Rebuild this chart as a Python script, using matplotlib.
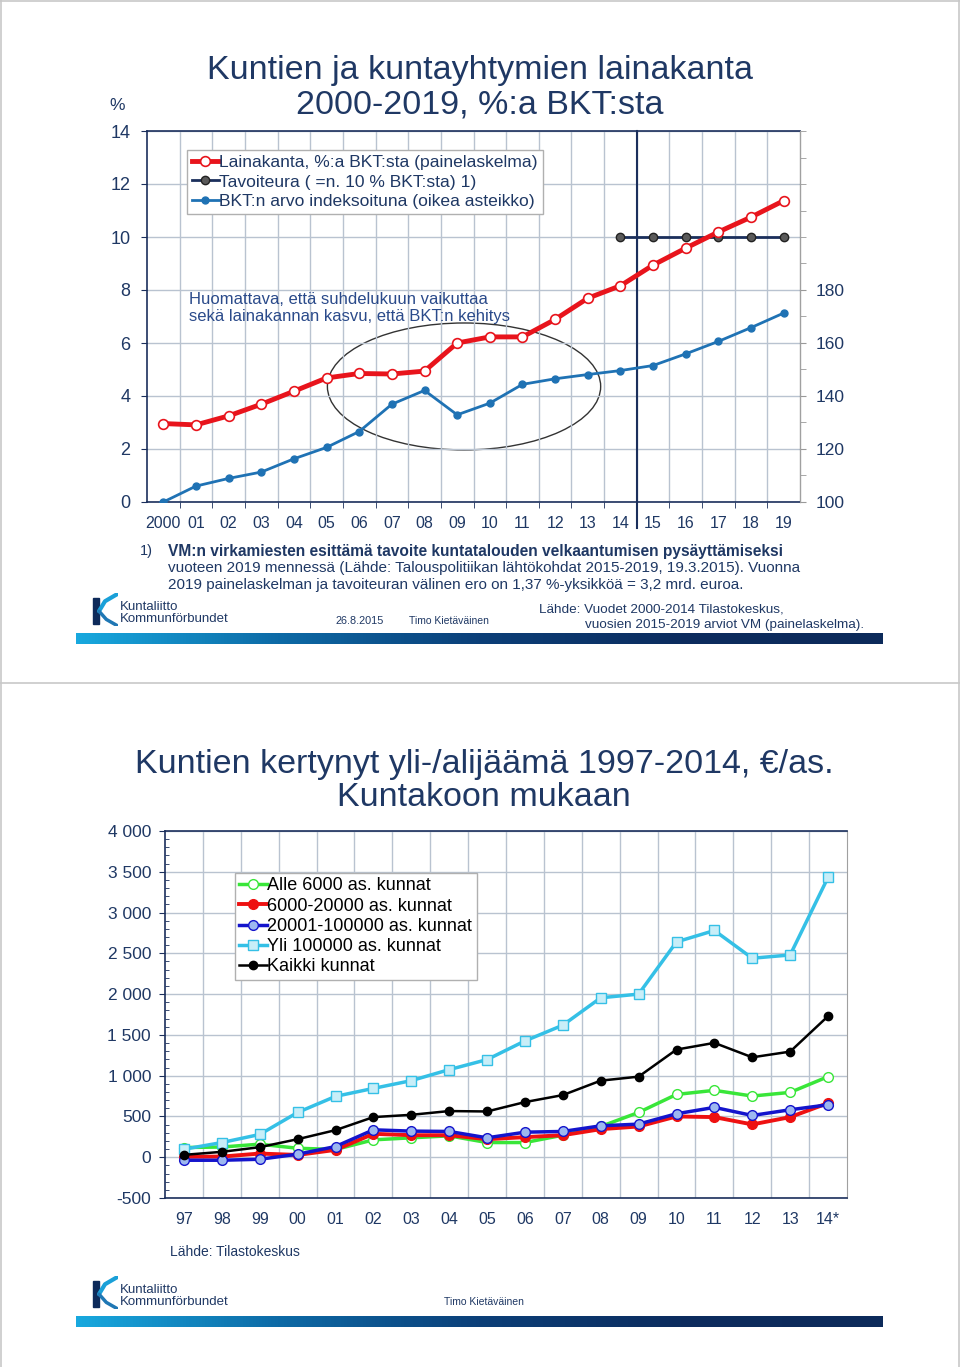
import numpy as np
import matplotlib
matplotlib.use('Agg')
import matplotlib.pyplot as plt
from matplotlib.patches import Ellipse, Rectangle
from matplotlib.lines import Line2D
from matplotlib.colors import LinearSegmentedColormap

plt.rcParams['font.family'] = ['Liberation Sans', 'DejaVu Sans']

# ---- data: top chart ----
years_top = ['2000', '01', '02', '03', '04', '05', '06', '07', '08', '09',
             '10', '11', '12', '13', '14', '15', '16', '17', '18', '19']
lainakanta = [2.96, 2.91, 3.25, 3.69, 4.18, 4.68, 4.85, 4.83, 4.94, 6.0,
              6.23, 6.23, 6.89, 7.69, 8.16, 8.94, 9.58, 10.19, 10.75, 11.37]
tavoite_years = ['14', '15', '16', '17', '18', '19']
tavoite = [10, 10, 10, 10, 10, 10]
bkt_index = [100, 106.0, 108.9, 111.3, 116.3, 120.6, 126.6, 136.9, 142.1, 132.9,
             137.3, 144.4, 146.5, 148.1, 149.6, 151.5, 155.9, 160.6, 165.8, 171.3]

# ---- data: bottom chart ----
years_bot = ['97', '98', '99', '00', '01', '02', '03', '04', '05', '06',
             '07', '08', '09', '10', '11', '12', '13', '14*']
alle6000 = [119, 125, 160, 110, 95, 213, 238, 262, 180, 180,
            270, 377, 549, 770, 820, 750, 795, 988]
k6000_20000 = [5, 8, 45, 28, 90, 287, 270, 270, 221, 246,
               270, 344, 377, 500, 492, 402, 492, 664]
k20001_100000 = [-37, -37, -25, 37, 131, 336, 320, 316, 238, 307,
                 316, 385, 406, 533, 611, 512, 582, 643]
yli100000 = [98, 180, 279, 549, 746, 844, 939, 1074, 1197, 1426,
             1619, 1955, 2000, 2640, 2780, 2440, 2480, 3432]
kaikki = [29, 66, 123, 221, 332, 492, 520, 566, 561, 676,
          762, 939, 988, 1320, 1402, 1225, 1295, 1730]

W, H = 960, 1367
navy = '#1b2f5c'
textc = '#1f3864'
gridc = '#b9c3d0'


def fx(px):
    return px / W


def fy(py):
    return 1 - py / H


fig = plt.figure(figsize=(9.6, 13.67), dpi=100)

# page borders
for seg in [((1, 1), (0, H)), ((0, W), (1, 1)), ((0, W), (683, 683)), ((W - 1, W - 1), (0, H))]:
    fig.add_artist(Line2D([fx(seg[0][0]), fx(seg[0][1])], [fy(seg[1][0]), fy(seg[1][1])],
                          color='#c8c8c8', lw=1.2))

# ================= TOP CHART =================
ax1 = fig.add_axes([fx(147), fy(502), (800 - 147) / W, (502 - 131) / H])
ax2 = ax1.twinx()
x = np.arange(len(years_top))
xt = [years_top.index(y) for y in tavoite_years]

ax1.set_xlim(-0.5, len(years_top) - 0.5)
ax1.set_ylim(0, 14)
ax2.set_ylim(100, 240)
ax1.set_yticks(np.arange(0, 15, 2))
ax1.set_yticks(np.arange(0, 15, 1), minor=True)
ax2.set_yticks([100, 120, 140, 160, 180])
ax2.set_yticks(np.arange(100, 241, 10), minor=True)
ax1.set_xticks(x)
ax1.set_xticklabels(years_top, fontsize=11.5, color=textc)
ax1.set_xticks(x[:-1] + 0.5, minor=True)
ax1.tick_params(axis='x', which='major', length=0, pad=10)
ax1.tick_params(axis='x', which='minor', length=4, color=navy)
ax1.tick_params(axis='y', which='major', labelsize=13, labelcolor=textc, length=4, color=navy, pad=8)
ax1.tick_params(axis='y', which='minor', length=0)
ax2.tick_params(axis='y', which='major', labelsize=12.5, labelcolor=textc, length=4, color='#999999', pad=7)
ax2.tick_params(axis='y', which='minor', length=4, color='#999999')
ax1.grid(True, which='major', axis='y', color=gridc, lw=1)
ax1.grid(True, which='minor', axis='x', color=gridc, lw=1)
for s in ['left', 'bottom', 'top']:
    ax1.spines[s].set_color(navy)
    ax1.spines[s].set_linewidth(1.2)
ax2.spines['right'].set_color('#a0a0a0')
for s in ['left', 'bottom', 'top']:
    ax2.spines[s].set_visible(False)

ax1.axvline(14.5, ymin=-0.07, ymax=1, color=navy, lw=1.5, clip_on=False)

ell = Ellipse((9.21, 4.36), 8.37, 4.79, fill=False, edgecolor='#333333', lw=1)
ax1.add_patch(ell)

l3, = ax2.plot(x, bkt_index, '-o', color='#1f72b4', lw=2, ms=5, markeredgecolor='#1f72b4',
               label='BKT:n arvo indeksoituna (oikea asteikko)', zorder=3)
l1, = ax2.plot(x, np.array(lainakanta) * 10 + 100, '-o', color='#e8141c', lw=3.5, ms=7,
               markerfacecolor='white', markeredgecolor='#e8141c', markeredgewidth=1.2,
               label='Lainakanta, %:a BKT:sta (painelaskelma)', zorder=5)
l2, = ax2.plot(xt, np.array(tavoite) * 10 + 100, '-o', color=navy, lw=2, ms=6,
               markerfacecolor='#5a5a5a', markeredgecolor='#222222',
               label='Tavoiteura ( =n. 10 % BKT:sta) 1)', zorder=4)
leg = ax2.legend(handles=[l1, l2, l3], loc='upper left', bbox_to_anchor=(0.0613, 0.9488),
                 borderaxespad=0, fancybox=False, edgecolor='#b0b0b0', framealpha=1,
                 fontsize=12.6, handlelength=1.5, handletextpad=0.05, labelspacing=0.22,
                 borderpad=0.3)
for t in leg.get_texts():
    t.set_color(textc)

ax1.text(0.0643, 0.523, 'Huomattava, että suhdelukuun vaikuttaa\nsekä lainakannan kasvu, että BKT:n kehitys',
         transform=ax1.transAxes, fontsize=12, color='#2a4a8a', va='center', ha='left',
         linespacing=1.2)

fig.text(fx(480), fy(88), 'Kuntien ja kuntayhtymien lainakanta\n2000-2019, %:a BKT:sta',
         ha='center', va='center', fontsize=24.5, color=textc, linespacing=1.15)
fig.text(fx(117), fy(106), '%', ha='center', va='center', fontsize=12.5, color=textc)

# footnotes
fig.text(fx(140), fy(551), '1)', fontsize=10.5, color=textc, va='center')
fig.text(fx(168), fy(551), 'VM:n virkamiesten esittämä tavoite kuntatalouden velkaantumisen pysäyttämiseksi',
         fontsize=11.2, color=textc, va='center', fontweight='bold')
fig.text(fx(168), fy(568), 'vuoteen 2019 mennessä (Lähde: Talouspolitiikan lähtökohdat 2015-2019, 19.3.2015). Vuonna',
         fontsize=11, color=textc, va='center')
fig.text(fx(168), fy(585), '2019 painelaskelman ja tavoiteuran välinen ero on 1,37 %-yksikköä = 3,2 mrd. euroa.',
         fontsize=11, color=textc, va='center')
fig.text(fx(336), fy(621), '26.8.2015', fontsize=7.8, color=textc, va='center')
fig.text(fx(409), fy(621), 'Timo Kietäväinen', fontsize=7.5, color=textc, va='center')
fig.text(fx(539), fy(610), 'Lähde: Vuodet 2000-2014 Tilastokeskus,', fontsize=9.7, color=textc, va='center')
fig.text(fx(585), fy(625), 'vuosien 2015-2019 arviot VM (painelaskelma).', fontsize=9.7, color=textc, va='center')

# ================= BOTTOM CHART =================
bx = fig.add_axes([fx(165), fy(1198), (847 - 165) / W, (1198 - 831) / H])
xb = np.arange(len(years_bot))
bx.set_xlim(-0.5, len(years_bot) - 0.5)
bx.set_ylim(-500, 4000)
bx.set_yticks(np.arange(-500, 4001, 500))
bx.set_yticklabels([f'{v:,}'.replace(',', ' ') for v in np.arange(-500, 4001, 500)])
bx.set_yticks(np.arange(-500, 4001, 100), minor=True)
bx.set_xticks(xb)
bx.set_xticklabels(years_bot, fontsize=11.5, color=textc)
bx.set_xticks(xb[:-1] + 0.5, minor=True)
bx.tick_params(axis='x', which='major', length=0, pad=10)
bx.tick_params(axis='x', which='minor', length=0)
bx.tick_params(axis='y', which='major', labelsize=12.5, labelcolor=textc, length=4, color=navy, pad=6)
bx.tick_params(axis='y', which='minor', length=3, direction='in', color=navy)
bx.grid(True, which='major', axis='y', color=gridc, lw=1)
bx.grid(True, which='minor', axis='x', color=gridc, lw=1)
for s in ['left', 'bottom', 'top']:
    bx.spines[s].set_color(navy)
    bx.spines[s].set_linewidth(1.2)
bx.spines['right'].set_color('#a0a0a0')

bx.plot(xb, alle6000, '-o', color='#39e639', lw=2.5, ms=7, markerfacecolor='white',
        markeredgecolor='#39e639', label='Alle 6000 as. kunnat', zorder=3)
bx.plot(xb, k6000_20000, '-o', color='#ee1111', lw=2.8, ms=7, markerfacecolor='#ee1111',
        markeredgecolor='#ee1111', label='6000-20000 as. kunnat', zorder=4)
bx.plot(xb, k20001_100000, '-o', color='#1414cc', lw=2.5, ms=7, markerfacecolor='#9db8f0',
        markeredgecolor='#1414cc', label='20001-100000 as. kunnat', zorder=5)
bx.plot(xb, yli100000, '-s', color='#35c0e6', lw=2.5, ms=7, markerfacecolor='#c8eef8',
        markeredgecolor='#35c0e6', label='Yli 100000 as. kunnat', zorder=3)
bx.plot(xb, kaikki, '-o', color='black', lw=1.8, ms=6, label='Kaikki kunnat', zorder=6)
leg2 = bx.legend(loc='upper left', bbox_to_anchor=(0.1026, 0.8856), borderaxespad=0,
                 fancybox=False, edgecolor='#b0b0b0', framealpha=1, fontsize=13,
                 handlelength=1.5, handletextpad=0.05, labelspacing=0.18, borderpad=0.25)
for t in leg2.get_texts():
    t.set_color('black')

fig.text(fx(484), fy(781), 'Kuntien kertynyt yli-/alijäämä 1997-2014, €/as.\nKuntakoon mukaan',
         ha='center', va='center', fontsize=24.5, color=textc, linespacing=1.05)
fig.text(fx(170), fy(1252), 'Lähde: Tilastokeskus', fontsize=10, color=textc, va='center')
fig.text(fx(444), fy(1302), 'Timo Kietäväinen', fontsize=7.5, color=textc, va='center')

# ---- footer bars and logos ----
cmap = LinearSegmentedColormap.from_list('bar', ['#18a8de', '#0d6aa6', '#0b3f78', '#0c2c5e', '#0c2a5a'])
grad = np.linspace(0, 1, 256).reshape(1, -1)
for top in [633, 1316]:
    gax = fig.add_axes([fx(76), fy(top + 11), (883 - 76) / W, 11 / H])
    gax.imshow(grad, aspect='auto', cmap=cmap)
    gax.axis('off')

for ltop in [593, 1276]:
    lax = fig.add_axes([fx(92), fy(ltop + 33), 26 / W, 33 / H])
    lax.set_xlim(0, 1)
    lax.set_ylim(0, 1)
    lax.add_patch(Rectangle((0.05, 0.05), 0.22, 0.8, color='#0d2a5a'))
    lax.plot([0.27, 0.5, 1.0], [0.45, 0.75, 0.98], color='#1aa0d8', lw=3, solid_capstyle='round')
    lax.plot([0.27, 0.55, 0.95], [0.45, 0.2, 0.02], color='#1f77b4', lw=2.5, solid_capstyle='round')
    lax.axis('off')
    fig.text(fx(120), fy(ltop + 14), 'Kuntaliitto', fontsize=9.5, color=textc, va='center')
    fig.text(fx(120), fy(ltop + 26), 'Kommunförbundet', fontsize=9.5, color=textc, va='center')

fig.savefig('out.png', dpi=100)
